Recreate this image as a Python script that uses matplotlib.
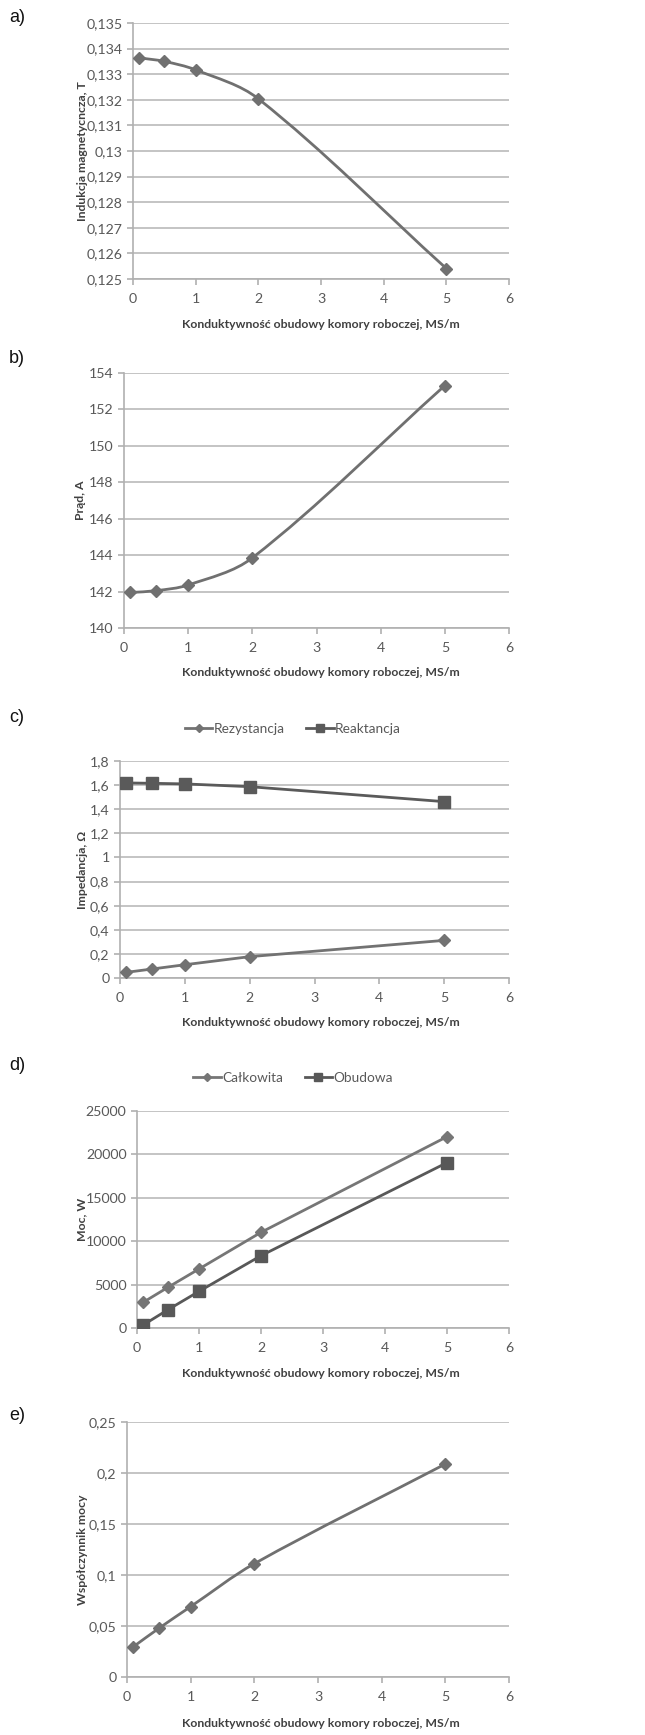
import numpy as np
import matplotlib
matplotlib.use("Agg")
import matplotlib.pyplot as plt
from matplotlib.path import Path
from matplotlib.patches import PathPatch
from matplotlib.ticker import FuncFormatter, MultipleLocator

# data
sigma = [0.1, 0.5, 1, 2, 5]
induction = [0.13364, 0.1335, 0.13317, 0.13204, 0.12541]
current = [141.95, 142.05, 142.36, 143.85, 153.31]
resistance = [0.047, 0.075, 0.110, 0.177, 0.312]
reactance = [1.618, 1.615, 1.610, 1.587, 1.463]
power_total = [2960, 4690, 6800, 11020, 22040]
power_housing = [350, 2110, 4220, 8330, 19050]
power_factor = [0.0297, 0.0477, 0.069, 0.1111, 0.2088]

xlabel = "Konduktywność obudowy komory roboczej, MS/m"

W, H = 645, 1735
fig = plt.figure(figsize=(W / 100, H / 100), dpi=100)
plt.rcParams['font.family'] = ['Lato', 'DejaVu Sans']

tick_col = "#595959"
grid_col = "#c4c4c4"


def comma(v, pos):
    s = "%g" % round(v, 6)
    return s.replace(".", ",")


def make_ax(left, right, top, bottom):
    ax = fig.add_axes([left / W, 1 - bottom / H, (right - left) / W, (bottom - top) / H])
    for s in ["top", "right"]:
        ax.spines[s].set_visible(False)
    for s in ["left", "bottom"]:
        ax.spines[s].set_color("#b0b0b0")
        ax.spines[s].set_linewidth(1.2)
    ax.grid(axis="y", color=grid_col, linewidth=1.4)
    ax.set_axisbelow(True)
    ax.tick_params(axis="both", colors="#b0b0b0", labelcolor=tick_col,
                   labelsize=10.2, length=4, width=1.2, direction="out")
    ax.tick_params(axis="x", pad=6)
    ax.set_xlim(0, 6)
    ax.xaxis.set_major_locator(MultipleLocator(1))
    ax.yaxis.set_major_formatter(FuncFormatter(comma))
    return ax


def smooth_line(ax, x, y, color, lw=2.0):
    # smoothed line like the spreadsheet one: cubic Bezier through the points,
    # tangents built in screen space so uneven spacing does not make bumps
    pts = ax.transData.transform(np.column_stack([x, y]).astype(float))
    n = len(pts)
    verts = [pts[0]]
    codes = [Path.MOVETO]
    for i in range(n - 1):
        p0 = pts[max(i - 1, 0)]
        p1 = pts[i]
        p2 = pts[i + 1]
        p3 = pts[min(i + 2, n - 1)]
        L = np.hypot(*(p2 - p1))
        d1 = p2 - p0
        d1 = d1 / np.hypot(*d1)
        d2 = p3 - p1
        d2 = d2 / np.hypot(*d2)
        verts += [p1 + d1 * L / 3, p2 - d2 * L / 3, p2]
        codes += [Path.CURVE4] * 3
    verts = ax.transData.inverted().transform(np.array(verts))
    ax.add_patch(PathPatch(Path(verts, codes), facecolor="none", edgecolor=color,
                           linewidth=lw, zorder=2))


def labels(ax, letter, ylab, ylab_x, xlab_y, letter_y):
    pos = ax.get_position()
    yc = (pos.y0 + pos.y1) / 2
    fig.text(ylab_x / W, yc, ylab, rotation=90, ha="center", va="center",
             fontsize=8.8, fontweight="bold", color="#404040")
    fig.text(321 / W, 1 - xlab_y / H, xlabel, ha="center",
             va="center", fontsize=8.8, fontweight="bold", color="#404040")
    fig.text(9 / W, 1 - letter_y / H, letter, ha="left", va="center",
             fontsize=13, family="Liberation Sans", color="#111111")


line_col = "#707070"

# a)
ax = make_ax(133, 509, 23, 279)
ax.set_ylim(0.125, 0.135)
ax.yaxis.set_major_locator(MultipleLocator(0.001))
smooth_line(ax, sigma, induction, line_col)
ax.plot(sigma, induction, linestyle="none", marker="D", markersize=6,
        color=line_col, zorder=3)
labels(ax, "a)", "Indukcja magnetycncza, T", 82, 325, 18)

# b)
ax = make_ax(124, 509, 373, 628)
ax.set_ylim(140, 154)
ax.yaxis.set_major_locator(MultipleLocator(2))
smooth_line(ax, sigma, current, line_col)
ax.plot(sigma, current, linestyle="none", marker="D", markersize=6,
        color=line_col, zorder=3)
labels(ax, "b)", "Prąd, A", 80, 673, 358)

# c)
ax = make_ax(120, 509, 761, 978)
ax.set_ylim(0, 1.8)
ax.yaxis.set_major_locator(MultipleLocator(0.2))
l1, = ax.plot(sigma, resistance, marker="D", markersize=6.5, linewidth=2.0,
              color="#727272", label="Rezystancja", zorder=3)
l2, = ax.plot(sigma, reactance, marker="s", markersize=8.5, linewidth=2.0,
              color="#5a5a5a", label="Reaktancja", zorder=3)
labels(ax, "c)", "Impedancja, Ω", 82, 1023, 717)
fig.legend(handles=[l1, l2], loc="center", bbox_to_anchor=(293 / W, 1 - 729 / H),
           ncol=2, frameon=False, fontsize=9.8, handlelength=2.0, handletextpad=0.1,
           columnspacing=1.6, markerscale=0.7, labelcolor=tick_col)

# d)
ax = make_ax(137, 509, 1111, 1328)
ax.set_ylim(0, 25000)
ax.yaxis.set_major_locator(MultipleLocator(5000))
l1, = ax.plot(sigma, power_total, marker="D", markersize=6.5, linewidth=2.0,
              color="#767676", label="Całkowita", zorder=3)
l2, = ax.plot(sigma, power_housing, marker="s", markersize=8.5, linewidth=2.0,
              color="#585858", label="Obudowa", zorder=3)
labels(ax, "d)", "Moc, W", 82, 1373, 1065)
fig.legend(handles=[l1, l2], loc="center", bbox_to_anchor=(293 / W, 1 - 1078 / H),
           ncol=2, frameon=False, fontsize=9.8, handlelength=2.0, handletextpad=0.1,
           columnspacing=1.6, markerscale=0.7, labelcolor=tick_col)

# e)
ax = make_ax(127, 509, 1422, 1677)
ax.set_ylim(0, 0.25)
ax.yaxis.set_major_locator(MultipleLocator(0.05))
smooth_line(ax, sigma, power_factor, line_col)
ax.plot(sigma, power_factor, linestyle="none", marker="D", markersize=6.5,
        color=line_col, zorder=3)
labels(ax, "e)", "Współczynnik mocy", 82, 1723, 1415)

fig.savefig("out.png", dpi=100)
